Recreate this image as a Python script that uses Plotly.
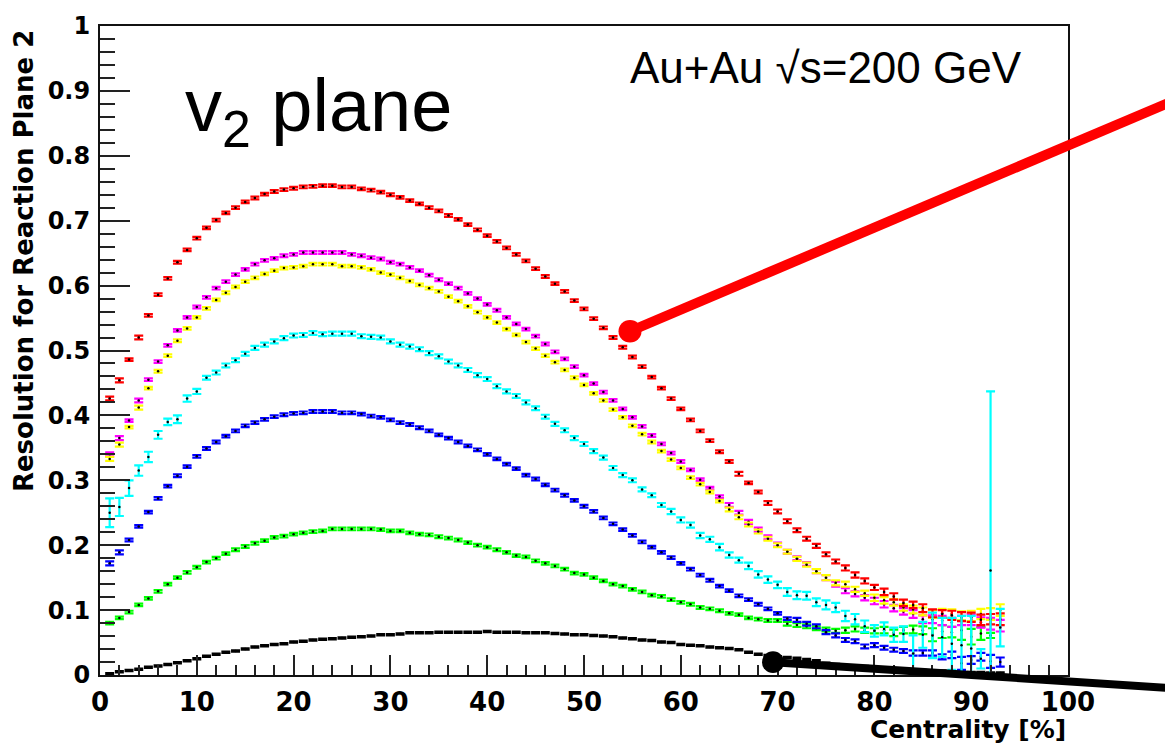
import plotly.graph_objects as go

# Centrality bins (percent), one point per 1% bin
centrality = list(range(1, 94))

# Event-plane resolution for the second-order reaction plane, per detector combination
red_res = [0.426, 0.454, 0.486, 0.520, 0.554, 0.586, 0.611, 0.636, 0.655, 0.673,
           0.689, 0.701, 0.712, 0.720, 0.729, 0.735, 0.741, 0.745, 0.748, 0.750,
           0.752, 0.753, 0.754, 0.754, 0.752, 0.752, 0.749, 0.747, 0.744, 0.740,
           0.736, 0.731, 0.726, 0.720, 0.715, 0.708, 0.702, 0.694, 0.686, 0.677,
           0.668, 0.658, 0.648, 0.638, 0.626, 0.614, 0.603, 0.591, 0.577, 0.564,
           0.549, 0.535, 0.520, 0.505, 0.490, 0.475, 0.459, 0.442, 0.426, 0.410,
           0.393, 0.376, 0.361, 0.344, 0.329, 0.310, 0.296, 0.282, 0.265, 0.252,
           0.237, 0.223, 0.210, 0.199, 0.186, 0.175, 0.165, 0.154, 0.145, 0.135,
           0.128, 0.121, 0.111, 0.108, 0.103, 0.095, 0.094, 0.092, 0.090, 0.089,
           0.085, 0.086, 0.086]
red_err = [0.003, 0.003, 0.002, 0.003, 0.002, 0.002, 0.002, 0.002, 0.002, 0.002,
           0.002, 0.002, 0.002, 0.002, 0.002, 0.002, 0.002, 0.002, 0.002, 0.002,
           0.002, 0.002, 0.002, 0.002, 0.002, 0.002, 0.002, 0.002, 0.002, 0.002,
           0.002, 0.002, 0.002, 0.002, 0.002, 0.002, 0.002, 0.002, 0.002, 0.002,
           0.002, 0.002, 0.002, 0.002, 0.002, 0.002, 0.002, 0.002, 0.002, 0.002,
           0.002, 0.002, 0.002, 0.002, 0.002, 0.002, 0.002, 0.002, 0.002, 0.002,
           0.002, 0.002, 0.002, 0.002, 0.002, 0.003, 0.002, 0.002, 0.003, 0.003,
           0.003, 0.003, 0.003, 0.003, 0.003, 0.003, 0.004, 0.004, 0.004, 0.004,
           0.005, 0.005, 0.005, 0.005, 0.006, 0.006, 0.006, 0.007, 0.007, 0.007,
           0.008, 0.008, 0.009]

magenta_res = [0.340, 0.365, 0.392, 0.423, 0.455, 0.483, 0.508, 0.531, 0.551, 0.567,
               0.582, 0.596, 0.606, 0.617, 0.625, 0.633, 0.639, 0.642, 0.646, 0.648,
               0.651, 0.651, 0.651, 0.651, 0.651, 0.648, 0.646, 0.643, 0.641, 0.636,
               0.633, 0.628, 0.623, 0.616, 0.609, 0.603, 0.596, 0.588, 0.580, 0.571,
               0.562, 0.551, 0.541, 0.533, 0.522, 0.510, 0.498, 0.487, 0.475, 0.462,
               0.449, 0.436, 0.423, 0.410, 0.397, 0.383, 0.369, 0.356, 0.342, 0.329,
               0.316, 0.301, 0.288, 0.275, 0.262, 0.250, 0.236, 0.224, 0.212, 0.201,
               0.190, 0.180, 0.171, 0.160, 0.150, 0.140, 0.130, 0.125, 0.119, 0.114,
               0.109, 0.103, 0.098, 0.094, 0.086, 0.086, 0.084, 0.081, 0.084, 0.085,
               0.081, 0.079, 0.076]
magenta_err = [0.003, 0.003, 0.002, 0.003, 0.002, 0.002, 0.002, 0.002, 0.002, 0.002,
               0.002, 0.002, 0.002, 0.002, 0.002, 0.002, 0.002, 0.002, 0.002, 0.002,
               0.002, 0.002, 0.002, 0.002, 0.002, 0.002, 0.002, 0.002, 0.002, 0.002,
               0.002, 0.002, 0.002, 0.002, 0.002, 0.002, 0.002, 0.002, 0.002, 0.002,
               0.002, 0.002, 0.002, 0.002, 0.002, 0.002, 0.002, 0.002, 0.002, 0.002,
               0.002, 0.002, 0.002, 0.002, 0.002, 0.002, 0.002, 0.002, 0.002, 0.002,
               0.002, 0.002, 0.002, 0.002, 0.003, 0.003, 0.003, 0.003, 0.003, 0.003,
               0.003, 0.003, 0.003, 0.003, 0.004, 0.004, 0.004, 0.004, 0.004, 0.005,
               0.005, 0.005, 0.005, 0.006, 0.006, 0.006, 0.007, 0.007, 0.007, 0.008,
               0.008, 0.009, 0.009]

yellow_res = [0.333, 0.355, 0.382, 0.412, 0.442, 0.468, 0.492, 0.515, 0.534, 0.551,
              0.565, 0.578, 0.589, 0.598, 0.606, 0.612, 0.618, 0.623, 0.627, 0.628,
              0.630, 0.633, 0.633, 0.633, 0.630, 0.630, 0.628, 0.625, 0.620, 0.617,
              0.612, 0.607, 0.601, 0.596, 0.591, 0.583, 0.576, 0.568, 0.559, 0.551,
              0.543, 0.533, 0.524, 0.513, 0.503, 0.492, 0.482, 0.470, 0.458, 0.447,
              0.434, 0.423, 0.409, 0.397, 0.384, 0.371, 0.359, 0.345, 0.332, 0.319,
              0.304, 0.294, 0.282, 0.268, 0.255, 0.243, 0.232, 0.221, 0.210, 0.200,
              0.190, 0.179, 0.170, 0.160, 0.150, 0.142, 0.140, 0.132, 0.126, 0.119,
              0.115, 0.112, 0.104, 0.101, 0.098, 0.094, 0.095, 0.094, 0.091, 0.091,
              0.094, 0.094, 0.100]
yellow_err = [0.003, 0.003, 0.002, 0.003, 0.002, 0.002, 0.002, 0.002, 0.002, 0.002,
              0.002, 0.002, 0.002, 0.002, 0.002, 0.002, 0.002, 0.002, 0.002, 0.002,
              0.002, 0.002, 0.002, 0.002, 0.002, 0.002, 0.002, 0.002, 0.002, 0.002,
              0.002, 0.002, 0.002, 0.002, 0.002, 0.002, 0.002, 0.002, 0.002, 0.002,
              0.002, 0.002, 0.002, 0.002, 0.002, 0.002, 0.002, 0.002, 0.002, 0.002,
              0.002, 0.002, 0.002, 0.002, 0.002, 0.002, 0.002, 0.002, 0.002, 0.002,
              0.002, 0.002, 0.002, 0.002, 0.003, 0.003, 0.003, 0.003, 0.003, 0.003,
              0.003, 0.003, 0.003, 0.003, 0.004, 0.004, 0.004, 0.004, 0.004, 0.005,
              0.005, 0.005, 0.005, 0.006, 0.006, 0.006, 0.007, 0.007, 0.007, 0.008,
              0.008, 0.009, 0.009]

cyan_res = [0.250, 0.259, 0.288, 0.315, 0.336, 0.370, 0.390, 0.394, 0.426, 0.437,
            0.458, 0.466, 0.477, 0.485, 0.495, 0.504, 0.509, 0.514, 0.519, 0.523,
            0.524, 0.527, 0.525, 0.526, 0.526, 0.526, 0.522, 0.521, 0.520, 0.514,
            0.509, 0.506, 0.502, 0.496, 0.491, 0.483, 0.477, 0.470, 0.462, 0.456,
            0.445, 0.437, 0.430, 0.420, 0.411, 0.398, 0.387, 0.377, 0.365, 0.356,
            0.345, 0.335, 0.319, 0.308, 0.300, 0.286, 0.277, 0.262, 0.252, 0.239,
            0.231, 0.215, 0.209, 0.197, 0.185, 0.177, 0.168, 0.155, 0.147, 0.139,
            0.128, 0.123, 0.122, 0.112, 0.108, 0.104, 0.091, 0.086, 0.075, 0.068,
            0.071, 0.062, 0.063, 0.033, 0.062, 0.061, 0.058, 0.048, 0.046, 0.041,
            0.025, 0.161, 0.073]
cyan_err = [0.022, 0.014, 0.012, 0.008, 0.008, 0.006, 0.005, 0.006, 0.005, 0.004,
            0.003, 0.003, 0.003, 0.003, 0.003, 0.003, 0.003, 0.003, 0.003, 0.003,
            0.003, 0.003, 0.003, 0.003, 0.003, 0.003, 0.003, 0.003, 0.003, 0.003,
            0.003, 0.003, 0.003, 0.003, 0.003, 0.003, 0.003, 0.003, 0.003, 0.003,
            0.003, 0.003, 0.003, 0.003, 0.003, 0.003, 0.003, 0.003, 0.003, 0.003,
            0.003, 0.003, 0.003, 0.003, 0.003, 0.003, 0.003, 0.003, 0.004, 0.004,
            0.004, 0.004, 0.004, 0.005, 0.004, 0.004, 0.005, 0.005, 0.005, 0.005,
            0.006, 0.006, 0.006, 0.006, 0.007, 0.007, 0.008, 0.008, 0.009, 0.009,
            0.010, 0.011, 0.012, 0.028, 0.020, 0.035, 0.030, 0.040, 0.045, 0.050,
            0.015, 0.276, 0.029]

blue_res = [0.172, 0.189, 0.208, 0.229, 0.251, 0.272, 0.291, 0.307, 0.321, 0.337,
            0.349, 0.359, 0.368, 0.376, 0.384, 0.389, 0.394, 0.398, 0.401, 0.403,
            0.404, 0.406, 0.406, 0.406, 0.404, 0.404, 0.402, 0.399, 0.397, 0.393,
            0.389, 0.386, 0.381, 0.376, 0.370, 0.365, 0.359, 0.353, 0.347, 0.340,
            0.333, 0.325, 0.318, 0.308, 0.302, 0.293, 0.285, 0.277, 0.269, 0.260,
            0.252, 0.242, 0.233, 0.224, 0.215, 0.205, 0.197, 0.189, 0.181, 0.172,
            0.163, 0.154, 0.146, 0.137, 0.130, 0.122, 0.116, 0.109, 0.102, 0.095,
            0.087, 0.085, 0.079, 0.075, 0.066, 0.061, 0.054, 0.052, 0.044, 0.046,
            0.042, 0.039, 0.037, 0.034, 0.034, 0.034, 0.028, 0.031, 0.018, 0.023,
            0.028, 0.021, 0.020]
blue_err = [0.003, 0.003, 0.002, 0.002, 0.002, 0.002, 0.002, 0.002, 0.002, 0.002,
            0.002, 0.002, 0.002, 0.002, 0.002, 0.002, 0.002, 0.002, 0.002, 0.002,
            0.002, 0.002, 0.002, 0.002, 0.002, 0.002, 0.002, 0.002, 0.002, 0.002,
            0.002, 0.002, 0.002, 0.002, 0.002, 0.002, 0.002, 0.002, 0.002, 0.002,
            0.002, 0.002, 0.002, 0.002, 0.002, 0.002, 0.002, 0.002, 0.002, 0.002,
            0.002, 0.002, 0.002, 0.002, 0.002, 0.002, 0.002, 0.002, 0.002, 0.002,
            0.002, 0.002, 0.002, 0.002, 0.002, 0.002, 0.002, 0.002, 0.002, 0.002,
            0.002, 0.003, 0.003, 0.003, 0.003, 0.003, 0.003, 0.003, 0.003, 0.003,
            0.003, 0.003, 0.003, 0.004, 0.004, 0.004, 0.004, 0.005, 0.010, 0.006,
            0.006, 0.010, 0.007]

green_res = [0.080, 0.088, 0.097, 0.108, 0.118, 0.129, 0.140, 0.150, 0.158, 0.166,
             0.174, 0.180, 0.187, 0.193, 0.198, 0.203, 0.207, 0.212, 0.214, 0.217,
             0.219, 0.221, 0.222, 0.225, 0.225, 0.225, 0.225, 0.225, 0.224, 0.222,
             0.222, 0.219, 0.217, 0.216, 0.213, 0.211, 0.208, 0.204, 0.200, 0.197,
             0.193, 0.189, 0.184, 0.182, 0.176, 0.172, 0.168, 0.163, 0.157, 0.155,
             0.150, 0.145, 0.140, 0.137, 0.132, 0.128, 0.123, 0.121, 0.116, 0.112,
             0.109, 0.104, 0.102, 0.099, 0.095, 0.093, 0.088, 0.086, 0.084, 0.084,
             0.079, 0.077, 0.075, 0.072, 0.070, 0.068, 0.069, 0.071, 0.069, 0.068,
             0.069, 0.065, 0.069, 0.070, 0.069, 0.062, 0.067, 0.066, 0.069, 0.059,
             0.064, 0.061, None]
green_err = [0.002, 0.002, 0.002, 0.002, 0.002, 0.002, 0.002, 0.002, 0.002, 0.002,
             0.002, 0.002, 0.002, 0.002, 0.002, 0.002, 0.002, 0.002, 0.002, 0.002,
             0.002, 0.002, 0.002, 0.002, 0.002, 0.002, 0.002, 0.002, 0.002, 0.002,
             0.002, 0.002, 0.002, 0.002, 0.002, 0.002, 0.002, 0.002, 0.002, 0.002,
             0.002, 0.002, 0.002, 0.002, 0.002, 0.002, 0.002, 0.002, 0.002, 0.002,
             0.002, 0.002, 0.002, 0.002, 0.002, 0.002, 0.002, 0.002, 0.002, 0.002,
             0.002, 0.002, 0.002, 0.002, 0.002, 0.002, 0.002, 0.002, 0.002, 0.002,
             0.003, 0.003, 0.003, 0.003, 0.003, 0.003, 0.004, 0.004, 0.004, 0.004,
             0.005, 0.005, 0.005, 0.006, 0.006, 0.010, 0.010, 0.008, 0.015, 0.012,
             0.010, 0.004, 0.0]

black_res = [0.002, 0.005, 0.007, 0.009, 0.012, 0.014, 0.016, 0.019, 0.022, 0.025,
             0.029, 0.032, 0.035, 0.037, 0.040, 0.043, 0.045, 0.047, 0.048, 0.051,
             0.052, 0.054, 0.055, 0.056, 0.057, 0.058, 0.059, 0.060, 0.062, 0.062,
             0.063, 0.065, 0.065, 0.065, 0.066, 0.066, 0.066, 0.066, 0.066, 0.067,
             0.066, 0.066, 0.066, 0.065, 0.065, 0.065, 0.064, 0.063, 0.062, 0.062,
             0.061, 0.060, 0.059, 0.057, 0.056, 0.054, 0.053, 0.051, 0.050, 0.047,
             0.046, 0.045, 0.043, 0.042, 0.041, 0.039, 0.035, 0.032, 0.030, 0.028,
             0.027, 0.026, 0.024, 0.022, 0.018, 0.016, 0.014, 0.013, 0.013, 0.010,
             0.010, 0.009, 0.008, 0.008, 0.007, 0.006, 0.006, 0.005, 0.005, 0.004,
             0.004, 0.003, 0.003]
black_err = [0.001, 0.001, 0.001, 0.001, 0.001, 0.001, 0.001, 0.001, 0.001, 0.001,
             0.001, 0.001, 0.001, 0.001, 0.001, 0.001, 0.001, 0.001, 0.001, 0.001,
             0.001, 0.001, 0.001, 0.001, 0.001, 0.001, 0.001, 0.001, 0.001, 0.001,
             0.001, 0.001, 0.001, 0.001, 0.001, 0.001, 0.001, 0.001, 0.001, 0.001,
             0.001, 0.001, 0.001, 0.001, 0.001, 0.001, 0.001, 0.001, 0.001, 0.001,
             0.001, 0.001, 0.001, 0.001, 0.001, 0.001, 0.001, 0.001, 0.001, 0.001,
             0.001, 0.001, 0.001, 0.001, 0.001, 0.001, 0.001, 0.001, 0.001, 0.001,
             0.001, 0.001, 0.001, 0.001, 0.001, 0.001, 0.001, 0.001, 0.001, 0.001,
             0.001, 0.001, 0.001, 0.001, 0.001, 0.001, 0.001, 0.001, 0.001, 0.001,
             0.001, 0.001, 0.001]

series = [
    ("black", black_res, black_err, "#000000"),
    ("green", green_res, green_err, "#00FF00"),
    ("blue", blue_res, blue_err, "#0000FF"),
    ("magenta", magenta_res, magenta_err, "#FF00FF"),
    ("yellow", yellow_res, yellow_err, "#FFFF00"),
    ("red", red_res, red_err, "#FF0000"),
    ("cyan", cyan_res, cyan_err, "#00FFFF"),
]

# Figure geometry in pixels, used for placing overlay annotations
W, H = 1165, 745
L, R, T, B = 100, 97, 18, 70
PW, PH = W - L - R, H - T - B


def px(xp):
    return (xp - L) / PW


def py(yp):
    return (H - B - yp) / PH


fig = go.Figure()
for name, vals, errs, col in series:
    fig.add_trace(go.Scatter(
        x=centrality, y=vals, name=name, mode="markers",
        marker=dict(color="black", size=2.5),
        error_y=dict(type="data", array=errs, visible=True,
                     color=col, thickness=2.2, width=4.5),
        showlegend=False, cliponaxis=True,
    ))

axis_font = dict(family="DejaVu Sans", weight="bold", color="black")

fig.update_xaxes(
    range=[0, 100], dtick=10, tick0=0,
    ticks="inside", ticklen=20, tickwidth=1.5, tickcolor="#222",
    minor=dict(dtick=2, ticks="inside", ticklen=10, tickwidth=1.5, tickcolor="#222"),
    showline=True, linecolor="#111", linewidth=2, mirror=True,
    showgrid=False, zeroline=False,
    tickfont=dict(size=26, **axis_font), ticklabelstandoff=3,
)
fig.update_yaxes(
    range=[0, 1], dtick=0.1, tick0=0,
    ticks="inside", ticklen=30, tickwidth=1.5, tickcolor="#222",
    minor=dict(dtick=0.02, ticks="inside", ticklen=15, tickwidth=1.5, tickcolor="#222"),
    showline=True, linecolor="#111", linewidth=2, mirror=True,
    showgrid=False, zeroline=False,
    tickfont=dict(size=24, **axis_font), ticklabelstandoff=3,
)

annotations = [
    dict(text="Resolution for Reaction Plane 2", textangle=-90,
         x=px(24), y=py(256), xref="paper", yref="paper",
         xanchor="center", yanchor="middle", showarrow=False,
         font=dict(size=26, **axis_font)),
    dict(text="Centrality [%]", x=px(1068), y=py(730), xref="paper", yref="paper",
         xanchor="right", yanchor="middle", showarrow=False,
         font=dict(size=25, **axis_font)),
    dict(text="v<sub>2</sub> plane", x=px(183), y=py(104), xref="paper", yref="paper",
         xanchor="left", yanchor="middle", showarrow=False,
         font=dict(family="Liberation Sans, Arial", size=74, color="black")),
    dict(text="Au+Au \u221As=200 GeV", x=px(1024), y=py(60), xref="paper", yref="paper",
         xanchor="right", yanchor="middle", showarrow=False,
         font=dict(family="Liberation Sans, Arial", size=44, color="black")),
]


def dot(cx, cy, r, col):
    return dict(type="circle", xref="paper", yref="paper",
                x0=px(cx - r), x1=px(cx + r), y0=py(cy + r), y1=py(cy - r),
                fillcolor=col, line=dict(color=col, width=0), layer="above")


shapes = [
    dict(type="line", xref="paper", yref="paper",
         x0=px(630), y0=py(327), x1=px(1168), y1=py(96),
         line=dict(color="#FF0000", width=10), layer="above"),
    dot(630, 327, 11.5, "#FF0000"),
    dict(type="line", xref="paper", yref="paper",
         x0=px(773), y0=py(662), x1=px(1168), y1=py(688),
         line=dict(color="#000000", width=8), layer="above"),
    dot(773, 662, 11, "#000000"),
]

fig.update_layout(
    width=W, height=H,
    margin=dict(l=L, r=R, t=T, b=B),
    plot_bgcolor="white", paper_bgcolor="white",
    annotations=annotations, shapes=shapes,
)

fig.write_html("out.html")
